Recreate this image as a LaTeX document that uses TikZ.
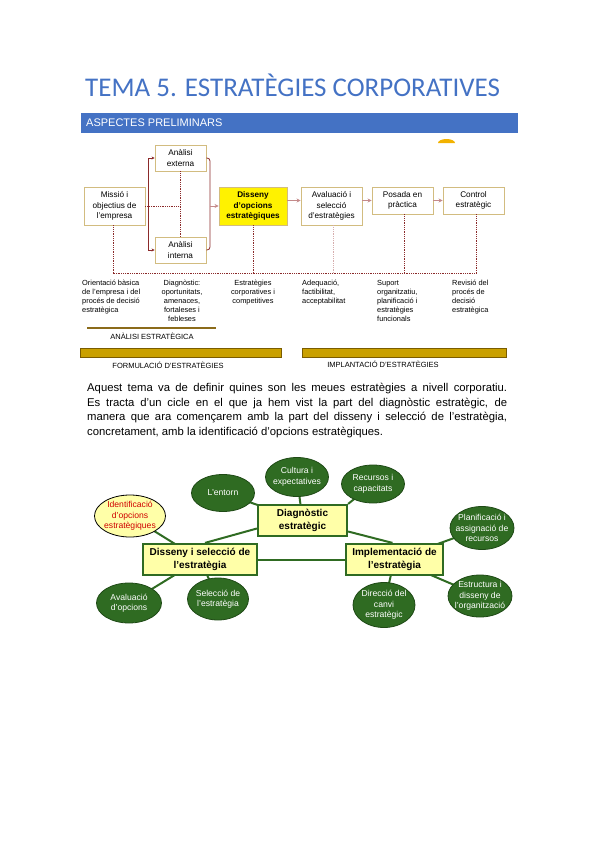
\documentclass[tikz,border=0pt]{standalone}
\usepackage{fontspec}
\setmainfont{Liberation Sans}
\newfontfamily\titlefont{Carlito}
\usetikzlibrary{arrows.meta,calc,backgrounds,shapes.geometric,shadows}
\definecolor{tblue}{HTML}{4472C4}
\definecolor{boxtan}{HTML}{D2BC80}
\definecolor{conred}{HTML}{8B2A2A}
\definecolor{pinkarr}{HTML}{C48A8A}
\definecolor{goldfill}{HTML}{C9A000}
\definecolor{golddark}{HTML}{7A5C00}
\definecolor{anl}{HTML}{8B6B1A}
\definecolor{dgreen}{HTML}{2F6B22}
\definecolor{dgreenb}{HTML}{1F4A16}
\definecolor{lyellow}{HTML}{FFFFA8}
\definecolor{redtxt}{HTML}{D00000}
\definecolor{orangec}{HTML}{F2B200}
\tikzset{
  tbox/.style={draw=boxtan, line width=0.9pt, fill=white, align=center, inner sep=1pt,
    font=\fontsize{8.2}{10.5}\selectfont,
    drop shadow={shadow xshift=1pt, shadow yshift=-1pt, fill=black!25, opacity=0.6}},
  ybox/.style={tbox, fill=yellow, font=\fontsize{8.2}{10.5}\selectfont\bfseries},
  brk/.style={draw=conred, line width=0.8pt},
  brkarr/.style={brk, -{Stealth[length=3pt,width=3pt]}},
  parr/.style={draw=pinkarr, line width=1pt, -{Stealth[length=4pt,width=4pt]}},
  dline/.style={draw=conred, line width=0.8pt, densely dotted},
  dlight/.style={draw=pinkarr!70, line width=0.8pt, densely dotted},
  desc/.style={font=\fontsize{7.4}{9}\selectfont, inner sep=0pt},
  band/.style={font=\fontsize{7.5}{9}\selectfont, inner sep=0pt},
  goldbar/.style={draw=golddark, fill=goldfill, line width=0.8pt, inner sep=0pt},
  gbox/.style={draw=dgreen, line width=2.2pt, fill=lyellow, align=center, inner sep=1pt,
    font=\fontsize{10}{12.5}\selectfont\bfseries},
  gell/.style={ellipse, draw=dgreenb, line width=0.8pt, fill=dgreen, text=white, align=center,
    inner xsep=-4pt, inner ysep=-2pt, font=\fontsize{8.6}{10.5}\selectfont},
  yell/.style={gell, fill=lyellow, draw=black, text=redtxt},
  gline/.style={draw=dgreen, line width=2pt}
}
\begin{document}
\begin{tikzpicture}[x=1pt,y=-1pt]
\useasboundingbox (0,0) rectangle (599,848);
% title
\node[anchor=base west, inner sep=0pt, text=tblue, font=\titlefont\fontsize{27}{32}\selectfont] (title) at (85,97) {TEMA 5. ESTRATÈGIES CORPORATIVES};
% blue bar
\node[fill=tblue, minimum width=437, minimum height=20, inner sep=0pt] (bar) at (299.5,123) {};
\node[anchor=west, text=white, font=\fontsize{11}{13}\selectfont, inner sep=0pt] (bartxt) at (86,123) {ASPECTES PRELIMINARS};
% small orange shape
\fill[orangec] (438,143) arc[start angle=180, end angle=360, x radius=8.5, y radius=4] -- cycle;
% top diagram boxes
\node[tbox, minimum width=61, minimum height=38] (mis) at (114.5,206) {Missió i\\objectius de\\l'empresa};
\node[tbox, minimum width=51, minimum height=26] (ext) at (180.5,158) {Anàlisi\\externa};
\node[tbox, minimum width=51, minimum height=26] (int) at (180.5,250) {Anàlisi\\interna};
\node[ybox, minimum width=68, minimum height=38] (dis) at (253,206) {Disseny\\d'opcions\\estratègiques};
\node[tbox, minimum width=61, minimum height=38] (ava) at (331.5,206) {Avaluació i\\selecció\\d'estratègies};
\node[tbox, minimum width=61, minimum height=27] (pos) at (402.5,200.5) {Posada en\\pràctica};
\node[tbox, minimum width=61, minimum height=27] (con) at (473.5,200.5) {Control\\estratègic};
% connectors
\coordinate (brL) at (148,206);
\coordinate (brR) at (210,206);
\coordinate (mid) at (180.5,206);
\draw[brkarr] (brL) |- (ext.west);
\draw[brkarr] (brL) |- (int.west);
\draw[brk, rounded corners=3pt] (ext.east) -| (brR) |- (int.east);
\draw[parr] (brR) -- (dis.west);
\draw[dline] (mis.east) -- (mid);
\draw[dline] (ext.south) -- (int.north);
\draw[parr] (dis.east |- pos.west) -- (ava.west |- pos.west);
\draw[parr] (ava.east |- pos.west) -- (pos.west);
\draw[parr] (pos.east) -- (con.west);
% dotted drops
\coordinate (b1) at (113,273);
\coordinate (b2) at (253,273);
\coordinate (b3) at (333,273);
\coordinate (b4) at (404,273);
\coordinate (b5) at (476,273);
\draw[dline] (mis.south -| b1) -- (b1) -- (b5);
\draw[dline] (dis.south -| b2) -- (b2);
\draw[dlight] (ava.south -| b3) -- (b3);
\draw[dline] (pos.south -| b4) -- (b4);
\draw[dline] (con.south -| b5) -- (b5);
% descriptions
\node[desc, anchor=north west, align=left] (d1) at (82,280) {Orientació bàsica\\de l'empresa i del\\procés de decisió\\estratègica};
\node[desc, anchor=north, align=center] (d2) at (182,280) {Diagnòstic:\\oportunitats,\\amenaces,\\fortaleses i\\febleses};
\node[desc, anchor=north, align=center] (d3) at (253,280) {Estratègies\\corporatives i\\competitives};
\node[desc, anchor=north west, align=left] (d4) at (302,280) {Adequació,\\factibilitat,\\acceptabilitat};
\node[desc, anchor=north west, align=left] (d5) at (377,280) {Suport\\organitzatiu,\\planificació i\\estratègies\\funcionals};
\node[desc, anchor=north west, align=left] (d6) at (452,280) {Revisió del\\procés de\\decisió\\estratègica};
% bands
\draw[draw=anl, line width=2pt] (87,328) -- (216,328);
\node[band] (anltxt) at (152,336) {ANÀLISI ESTRATÈGICA};
\node[goldbar, minimum width=201, minimum height=9] (fbar) at (180.5,352.5) {};
\node[goldbar, minimum width=204, minimum height=9] (ibar) at (404,352.5) {};
\node[band] (ftxt) at (168,365) {FORMULACIÓ D'ESTRATÈGIES};
\node[band] (itxt) at (383,364) {IMPLANTACIÓ D'ESTRATÈGIES};
% paragraph
\node[anchor=north west, inner sep=0pt, text width=420pt, align=justify,
  font=\fontsize{11.3}{14.5}\selectfont] (para) at (87,383)
  {Aquest tema va de definir quines son les meues estratègies a nivell corporatiu.\linebreak Es tracta d'un cicle en el que ja hem vist la part del diagnòstic estratègic, de\linebreak manera que ara començarem amb la part del disseny i selecció de l'estratègia,\linebreak concretament, amb la identificació d'opcions estratègiques.};
% bottom diagram
\node[gbox, minimum width=89, minimum height=31] (diag) at (302.5,520.5) {Diagnòstic\\estratègic};
\node[gbox, minimum width=114, minimum height=31] (dsel) at (200,559.5) {Disseny i selecció de\\l'estratègia};
\node[gbox, minimum width=97, minimum height=31] (imp) at (394.5,559.5) {Implementació de\\l'estratègia};
\node[gell, minimum width=63, minimum height=37] (ent) at (223,493) {L'entorn};
\node[gell, minimum width=63, minimum height=39] (cul) at (297,477) {Cultura i\\expectatives};
\node[gell, minimum width=63, minimum height=38] (rec) at (373,484) {Recursos i\\capacitats};
\node[yell, minimum width=71, minimum height=42] (idn) at (130,516) {Identificació\\d'opcions\\estratègiques};
\node[gell, minimum width=64, minimum height=43] (pla) at (482,528) {Planificació i\\assignació de\\recursos};
\node[gell, minimum width=64, minimum height=42] (est) at (480,596) {Estructura i\\disseny de\\l'organització};
\node[gell, minimum width=62, minimum height=45] (dir) at (384,605) {Direcció del\\canvi\\estratègic};
\node[gell, minimum width=65, minimum height=40] (avo) at (129,603) {Avaluació\\d'opcions};
\node[gell, minimum width=61, minimum height=42] (sel) at (218,599) {Selecció de\\l'estratègia};
\begin{pgfonlayer}{background}
\draw[gline] (ent.center) -- (diag.center);
\draw[gline] (cul.center) -- (diag.center);
\draw[gline] (rec.center) -- (diag.north east);
\draw[gline] ($(diag.west)+(0,8)$) -- ($(dsel.north)+(5,0)$);
\draw[gline] ($(diag.east)+(0,11)$) -- ($(imp.north)+(-2,0)$);
\draw[gline] (dsel.east) -- (imp.west);
\draw[gline] (idn.center) -- (dsel.center);
\draw[gline] (avo.center) -- (dsel.center);
\draw[gline] (sel.center) -- (dsel.center);
\draw[gline] (pla.center) -- (imp.center);
\draw[gline] (dir.center) -- (imp.center);
\draw[gline] (est.center) -- (imp.center);
\end{pgfonlayer}
\end{tikzpicture}
\end{document}
